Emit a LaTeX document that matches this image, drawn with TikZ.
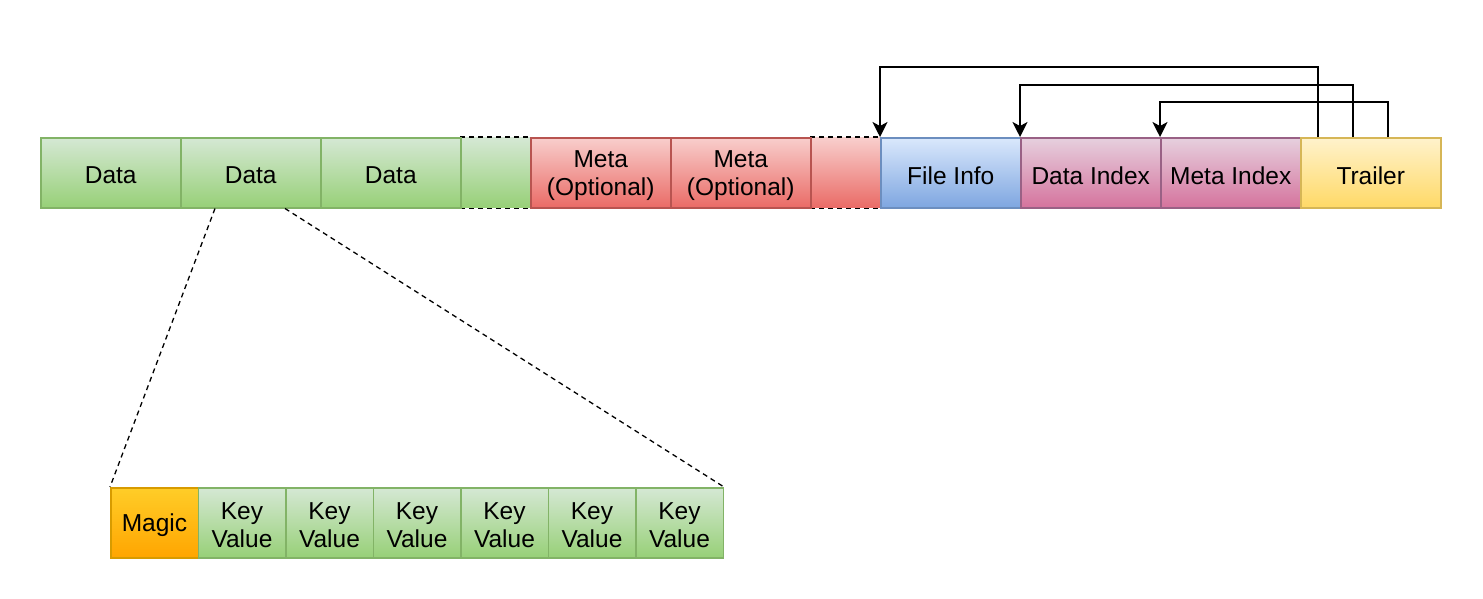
\documentclass[tikz,border=0pt]{standalone}
\usepackage{fontspec}
\setmainfont{Liberation Sans}
\usetikzlibrary{arrows.meta}
\definecolor{gT}{HTML}{D5E8D4}\definecolor{gB}{HTML}{97D077}\definecolor{gS}{HTML}{82B366}
\definecolor{rT}{HTML}{F8CECC}\definecolor{rB}{HTML}{EA6B66}\definecolor{rS}{HTML}{B85450}
\definecolor{bT}{HTML}{DAE8FC}\definecolor{bB}{HTML}{7EA6E0}\definecolor{bS}{HTML}{6C8EBF}
\definecolor{pT}{HTML}{E6D0DE}\definecolor{pB}{HTML}{D5739D}\definecolor{pS}{HTML}{996185}
\definecolor{yT}{HTML}{FFF2CC}\definecolor{yB}{HTML}{FFD966}\definecolor{yS}{HTML}{D6B656}
\definecolor{oT}{HTML}{FFCD28}\definecolor{oB}{HTML}{FFA500}\definecolor{oS}{HTML}{D79B00}
\tikzset{
  cell/.style={anchor=north west, minimum width=140pt, minimum height=70pt, inner sep=0pt,
    line width=1.5pt},
  lbl/.style={yshift=-2.5pt, align=center, inner sep=0pt, font=\fontsize{24.5}{28}\selectfont},
  small/.style={cell, minimum width=87.5pt},
  green/.style={top color=gT, bottom color=gB, draw=gS},
  red/.style={top color=rT, bottom color=rB, draw=rS},
  blue/.style={top color=bT, bottom color=bB, draw=bS},
  pink/.style={top color=pT, bottom color=pB, draw=pS},
  yellow/.style={top color=yT, bottom color=yB, draw=yS},
  orange/.style={top color=oT, bottom color=oB, draw=oS},
  gapline/.style={line width=1.4pt, dash pattern=on 5pt off 4pt, black},
  zoomline/.style={line width=1.3pt, dash pattern=on 5pt off 4pt, black},
  arr/.style={line width=1.8pt, -{Stealth[length=15pt,width=15pt,inset=4pt]}},
}
\begin{document}
\begin{tikzpicture}[x=1pt,y=-1pt]
\useasboundingbox[fill=white] (0,0) rectangle (1483,598);
% gap boxes
\node[cell, minimum width=70pt, top color=gT, bottom color=gB] (gap1) at (460,137) {};
\node[cell, minimum width=70pt, top color=rT, bottom color=rB] (gap2) at (810,137) {};
\draw[gapline] (gap1.north west) -- (gap1.north east);
\draw[gapline] (gap1.south west) -- (gap1.south east);
\draw[gapline] (gap2.north west) -- (gap2.north east);
\draw[gapline] (gap2.south west) -- (gap2.south east);
% top row
\node[cell, green, label={[lbl]center:Data}] (data1) at (40,137) {};
\node[cell, green, label={[lbl]center:Data}] (data2) at (180,137) {};
\node[cell, green, label={[lbl]center:Data}] (data3) at (320,137) {};
\node[cell, red, label={[lbl]center:Meta\\(Optional)}] (meta1) at (530,137) {};
\node[cell, red, label={[lbl]center:Meta\\(Optional)}] (meta2) at (670,137) {};
\node[cell, blue, label={[lbl]center:File Info}] (finfo) at (880,137) {};
\node[cell, pink, label={[lbl]center:Data Index}] (dindex) at (1020,137) {};
\node[cell, pink, label={[lbl]center:Meta Index}] (mindex) at (1160,137) {};
\node[cell, yellow, label={[lbl]center:Trailer}] (trailer) at (1300,137) {};
% bottom row
\node[small, orange, label={[lbl]center:Magic}] (magic) at (110,487) {};
\node[small, green, label={[lbl]center:Key\\Value}] (kv1) at (197.5,487) {};
\node[small, green, label={[lbl]center:Key\\Value}] (kv2) at (285,487) {};
\node[small, green, label={[lbl]center:Key\\Value}] (kv3) at (372.5,487) {};
\node[small, green, label={[lbl]center:Key\\Value}] (kv4) at (460,487) {};
\node[small, green, label={[lbl]center:Key\\Value}] (kv5) at (547.5,487) {};
\node[small, green, label={[lbl]center:Key\\Value}] (kv6) at (635,487) {};
% zoom lines
\draw[zoomline] ([xshift=35pt]data2.south west) -- (magic.north west);
\draw[zoomline] ([xshift=105pt]data2.south west) -- (kv6.north east);
% arrows
\draw[arr] ([xshift=18pt]trailer.north west) |- ([yshift=70pt]finfo.north west) -- (finfo.north west);
\draw[arr] ([xshift=53pt]trailer.north west) |- ([yshift=52pt]dindex.north west) -- (dindex.north west);
\draw[arr] ([xshift=88pt]trailer.north west) |- ([yshift=35pt]mindex.north west) -- (mindex.north west);
\end{tikzpicture}
\end{document}
